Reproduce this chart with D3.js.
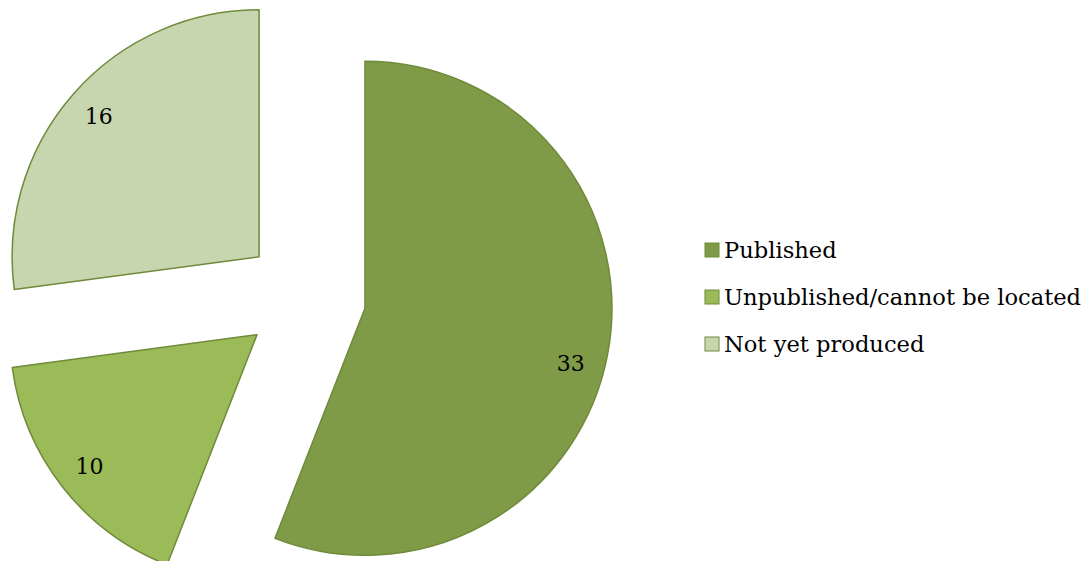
<!DOCTYPE html>
<html>
<head>
<meta charset="utf-8">
<script src="https://cdn.jsdelivr.net/npm/d3@7"></script>
<style>
  body { margin: 0; background: #fff; }
  text { font-family: "DejaVu Serif", "Liberation Serif", serif; fill: #000; }
</style>
</head>
<body>
<div id="chart"></div>
<script>
// chart data
const categories = ["Published", "Unpublished/cannot be located", "Not yet produced"];
const counts = [33, 10, 16];
const fills = ["#7f9b47", "#9bbb59", "#c7d6ae"];
const strokeColor = "#6f8a3a";

const width = 1086, height = 561;
const cx = 305, cy = 297;
const radius = 247;
const explode = 61;
const labelRadius = 213;

const svg = d3.select("#chart").append("svg")
  .attr("width", width)
  .attr("height", height);

const pie = d3.pie().sort(null).value(d => d.value);
const slices = pie(categories.map((c, i) => ({ name: c, value: counts[i], idx: i })));

const arc = d3.arc().innerRadius(0).outerRadius(radius);

const g = svg.append("g").attr("transform", "translate(" + cx + "," + cy + ")");

const slice = g.selectAll("g.slice")
  .data(slices)
  .enter().append("g")
  .attr("class", "slice")
  .attr("transform", function(d) {
    const a = (d.startAngle + d.endAngle) / 2;
    return "translate(" + (Math.sin(a) * explode) + "," + (-Math.cos(a) * explode) + ")";
  });

slice.append("path")
  .attr("d", arc)
  .attr("fill", d => fills[d.data.idx])
  .attr("stroke", strokeColor)
  .attr("stroke-width", 1.5)
  .attr("stroke-linejoin", "round");

// Excel nudges the big slice's label a little lower, so bias its angle slightly
function labelAngle(d) {
  const a = (d.startAngle + d.endAngle) / 2;
  return d.endAngle - d.startAngle > Math.PI ? a + 0.075 : a;
}

slice.append("text")
  .attr("x", d => Math.sin(labelAngle(d)) * labelRadius)
  .attr("y", d => -Math.cos(labelAngle(d)) * labelRadius)
  .attr("text-anchor", "middle")
  .attr("dy", "0.35em")
  .style("font-size", "22px")
  .text(d => d.data.value);

// legend
const legend = svg.append("g").attr("transform", "translate(705,250)");
const item = legend.selectAll("g.item")
  .data(categories)
  .enter().append("g")
  .attr("class", "item")
  .attr("transform", (d, i) => "translate(0," + (i * 47) + ")");

item.append("rect")
  .attr("x", 0).attr("y", -7)
  .attr("width", 14).attr("height", 14)
  .attr("fill", (d, i) => fills[i])
  .attr("stroke", strokeColor)
  .attr("stroke-width", 1);

item.append("text")
  .attr("x", 19)
  .attr("dy", "0.35em")
  .style("font-size", "22.6px")
  .text(d => d);
</script>
</body>
</html>
